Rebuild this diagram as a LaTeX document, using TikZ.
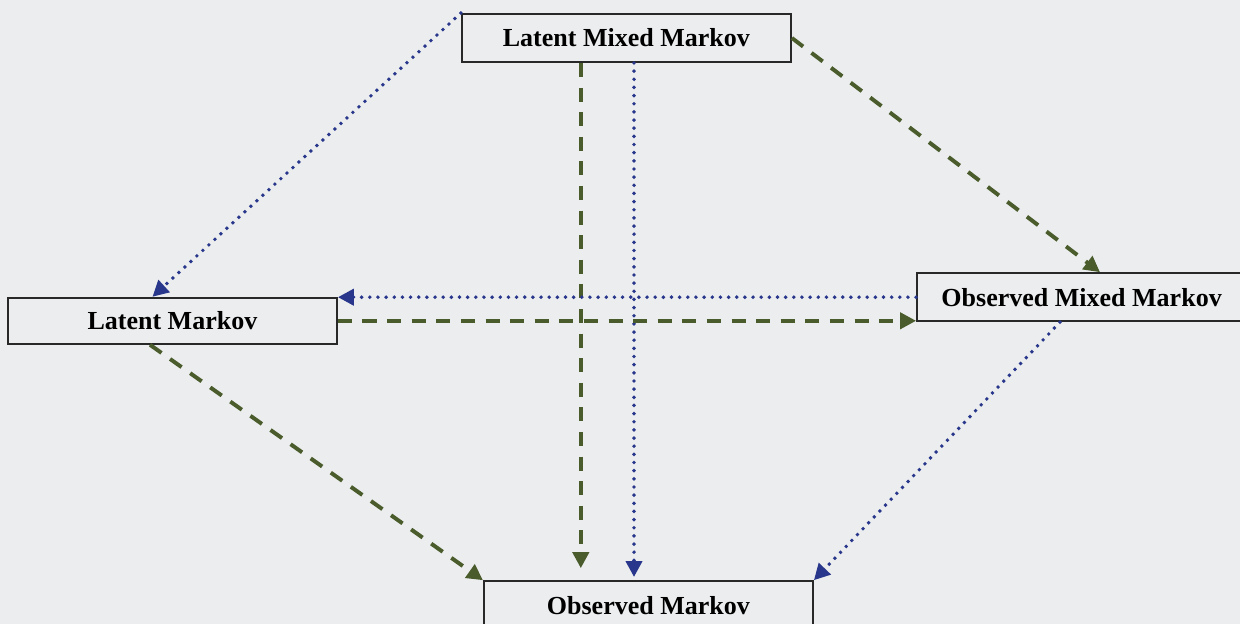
\documentclass[tikz,border=0pt]{standalone}
\usepackage{fontspec}
\setmainfont{Liberation Serif}
\usetikzlibrary{arrows.meta,positioning,calc}
\definecolor{bgcol}{RGB}{236,237,238}
\definecolor{olivegd}{RGB}{74,92,44}
\definecolor{navybd}{RGB}{40,55,140}
\definecolor{edgecol}{RGB}{40,40,40}
\begin{document}
\begin{tikzpicture}[>={Triangle[length=0.4cm,width=0.4cm]},
 font=\fontsize{18.5}{22}\selectfont\bfseries,
 box/.style={draw=edgecol,line width=1.4pt,fill=bgcol,minimum width=8.225cm,minimum height=1.2cm,inner sep=0pt},
 gd/.style={->,draw=olivegd,line width=2.8pt,dash pattern=on 10pt off 7.5pt},
 bd/.style={->,draw=navybd,line width=2.8pt,line cap=round,dash pattern=on 0pt off 5.8pt}]
\fill[bgcol] (0,0) rectangle (31,-15.6);
\useasboundingbox (0,0) rectangle (31,-15.6);
\clip (0,0) rectangle (31,-15.6);
\node[box] (lmm) at (15.66,-0.95) {Latent Mixed Markov};
\node[box,minimum height=1.15cm] (lm) at (4.31,-8.02) {Latent Markov};
\node[box] (omm) at (27.04,-7.43) {Observed Mixed Markov};
\node[box] (om) at (16.21,-15.13) {Observed Markov};
\draw[bd] (lmm.north west) -- ([xshift=-0.5cm]lm.north);
\draw[gd] (lmm.east) -- ([xshift=0.46cm]omm.north);
\draw[gd,shorten >=0.3cm] ([xshift=-1.14cm]lmm.south) -- ([xshift=-1.14cm]lmm.south |- om.north);
\draw[bd,shorten >=0.08cm] ([xshift=0.19cm]lmm.south) -- ([xshift=0.19cm]lmm.south |- om.north);
\draw[bd] (omm.west) -- (omm.west -| lm.east);
\draw[gd] (lm.east) -- (lm.east -| omm.west);
\draw[gd] ([xshift=-0.56cm]lm.south) -- (om.north west);
\draw[bd] ([xshift=-0.54cm]omm.south) -- (om.north east);
\end{tikzpicture}
\end{document}
